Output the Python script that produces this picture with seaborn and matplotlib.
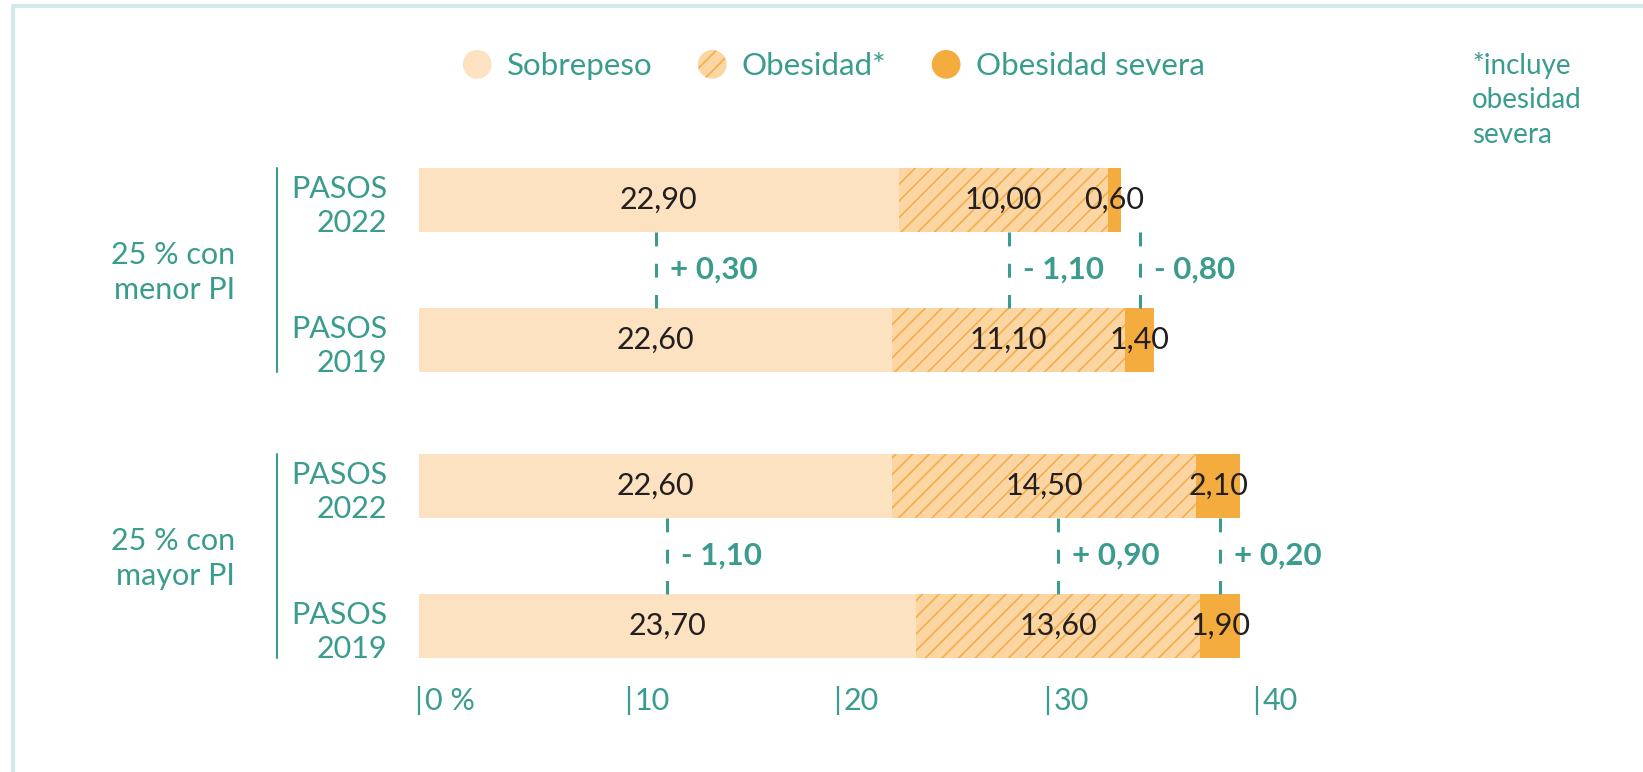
import numpy as np
import pandas as pd
import matplotlib
matplotlib.use("Agg")
import matplotlib.pyplot as plt
import matplotlib.patches as mpatches
from matplotlib.legend_handler import HandlerPatch
from matplotlib.transforms import ScaledTranslation
import seaborn as sns

# values
grupos = ["25 % con\nmenor PI", "25 % con\nmenor PI", "25 % con\nmayor PI", "25 % con\nmayor PI"]
ediciones = ["PASOS\n2022", "PASOS\n2019", "PASOS\n2022", "PASOS\n2019"]
sobrepeso = [22.90, 22.60, 22.60, 23.70]
obesidad = [10.00, 11.10, 14.50, 13.60]
obesidad_severa = [0.60, 1.40, 2.10, 1.90]
series = ["Sobrepeso", "Obesidad*", "Obesidad severa"]
x_ticks = [0, 10, 20, 30, 40]
x_tick_labels = ["0 %", "10", "20", "30", "40"]
nota = "*incluye\nobesidad\nsevera"

# colours
TEAL = "#3a9c8c"
C_SOB = "#fce2c0"
C_OBE = "#fcd6a2"
C_HATCH = "#f3ae4c"
C_SEV = "#f5ac3e"
C_TXT = "#231f20"
C_FRAME = "#d4e9e9"
FS = 22

sns.set_theme(style="white")
plt.rcParams["font.family"] = ["Lato", "DejaVu Sans"]
plt.rcParams["hatch.linewidth"] = 1.2
plt.rcParams["lines.scale_dashes"] = False

# build the table
grupo_idx = pd.factorize(pd.Series(grupos))[0]
df = pd.DataFrame({
    "grupo": grupos,
    "edicion": ediciones,
    "sobrepeso": sobrepeso,
    "obesidad": obesidad,
    "severa": obesidad_severa,
})
df["y"] = np.arange(len(df)) + 0.043 * grupo_idx
df["c1"] = df["sobrepeso"]
df["c2"] = df["c1"] + df["obesidad"]
df["c3"] = df["c2"] + df["severa"]

BAR_H = 0.457

fig = plt.figure(figsize=(16.43, 7.72), dpi=100)
ax = fig.add_axes([419 / 1643, (772 - 686) / 772, 838 / 1643, 556 / 772])

common = dict(data=df, y="y", orient="h", native_scale=True, width=BAR_H,
              saturation=1, errorbar=None, ax=ax)
sns.barplot(x="c3", color=C_SEV, linewidth=0, **common)
sns.barplot(x="c2", color=C_OBE, hatch="//", edgecolor=C_HATCH, linewidth=0, **common)
sns.barplot(x="c1", color=C_SOB, linewidth=0, **common)

ax.set_xlim(0, 40)
ax.set_ylim(3.471, -0.5)
ax.set_xlabel("")
ax.set_ylabel("")
for s in ax.spines.values():
    s.set_visible(False)

# segment value labels
def fmt(v):
    return f"{v:.2f}".replace(".", ",")

for _, r in df.iterrows():
    centers = [r["c1"] / 2, r["c1"] + r["obesidad"] / 2, r["c2"] + r["severa"] / 2]
    vals = [r["sobrepeso"], r["obesidad"], r["severa"]]
    for cx, v in zip(centers, vals):
        ax.text(cx, r["y"], fmt(v), ha="center", va="center", fontsize=FS, color=C_TXT)

# y labels (edition) and group labels + brackets
ax.set_yticks(df["y"], ediciones)
ax.tick_params(axis="y", length=0, pad=23, labelsize=FS, labelcolor=TEAL)
for lbl in ax.get_yticklabels():
    lbl.set_linespacing(1.3)

ytrans = ax.get_yaxis_transform()
for g in range(grupo_idx.max() + 1):
    sub = df[grupo_idx == g]
    y_top = sub["y"].min() - BAR_H / 2
    y_bot = sub["y"].max() + BAR_H / 2
    ax.plot([-0.1695, -0.1695], [y_top, y_bot], transform=ytrans, color=TEAL,
            lw=1.5, clip_on=False)
    ax.text(-0.2196, sub["y"].mean() + 0.02, sub["grupo"].iloc[0], transform=ytrans,
            ha="right", va="center", fontsize=FS, color=TEAL, linespacing=1.3)

    # change markers between 2022 and 2019
    r22 = sub.iloc[0]
    r19 = sub.iloc[1]
    xs = [r19["c1"] / 2, r19["c1"] + r19["obesidad"] / 2, r19["c2"] + r19["severa"] / 2]
    diffs = [r22["sobrepeso"] - r19["sobrepeso"],
             r22["obesidad"] - r19["obesidad"],
             r22["severa"] - r19["severa"]]
    y0 = r22["y"] + BAR_H / 2
    y1 = r19["y"] - BAR_H / 2
    for xm, d in zip(xs, diffs):
        ax.plot([xm, xm], [y0, y1], color=TEAL, lw=2.2, dashes=(10, 12.5))
        sign = "+" if d >= 0 else "-"
        ax.annotate(f"{sign} {fmt(abs(d))}", (xm, (y0 + y1) / 2), xytext=(10, 0),
                    textcoords="offset points", ha="left", va="center",
                    fontsize=FS + 0.5, fontweight="bold", color=TEAL)

# x axis: "|0 %" style ticks
ax.set_xticks(x_ticks, x_tick_labels)
ax.tick_params(axis="x", direction="out", length=21, width=1.6, color=TEAL,
               labelcolor=TEAL, labelsize=FS, pad=-10.2, bottom=True)
for lbl in ax.get_xticklabels():
    lbl.set_ha("left")
    lbl.set_va("center")
    lbl.set_transform(lbl.get_transform() + ScaledTranslation(0.06, 0, fig.dpi_scale_trans))

# legend with round markers
class HandlerCircle(HandlerPatch):
    def create_artists(self, legend, orig_handle, xdescent, ydescent, width, height, fontsize, trans):
        r = min(width, height) / 2
        c = mpatches.Circle((width / 2 - xdescent, height / 2 - ydescent), r)
        self.update_prop(c, orig_handle, legend)
        c.set_transform(trans)
        return [c]

handles = [
    mpatches.Patch(facecolor=C_SOB, edgecolor=C_SOB, linewidth=0),
    mpatches.Patch(facecolor=C_OBE, edgecolor=C_HATCH, hatch="//", linewidth=0),
    mpatches.Patch(facecolor=C_SEV, edgecolor=C_SEV, linewidth=0),
]
fig.legend(handles, series, loc="center left", bbox_to_anchor=(461 / 1643, 1 - 65 / 772),
           ncol=3, frameon=False, borderpad=0, borderaxespad=0, fontsize=22.5,
           labelcolor=TEAL, handlelength=1.04, handleheight=1.04, handletextpad=0.42,
           columnspacing=1.4, handler_map={mpatches.Patch: HandlerCircle()})

fig.text(1472 / 1643, 1 - 100 / 772, nota, ha="left", va="center", fontsize=20,
         color=TEAL, linespacing=1.42)

# light frame on the left and top
fig.add_artist(plt.Line2D([12.5 / 1643, 12.5 / 1643], [0, 1 - 6 / 772],
                          transform=fig.transFigure, color=C_FRAME, lw=3))
fig.add_artist(plt.Line2D([12.5 / 1643, 1], [1 - 6 / 772, 1 - 6 / 772],
                          transform=fig.transFigure, color=C_FRAME, lw=3))

fig.savefig("out.png", dpi=100)
